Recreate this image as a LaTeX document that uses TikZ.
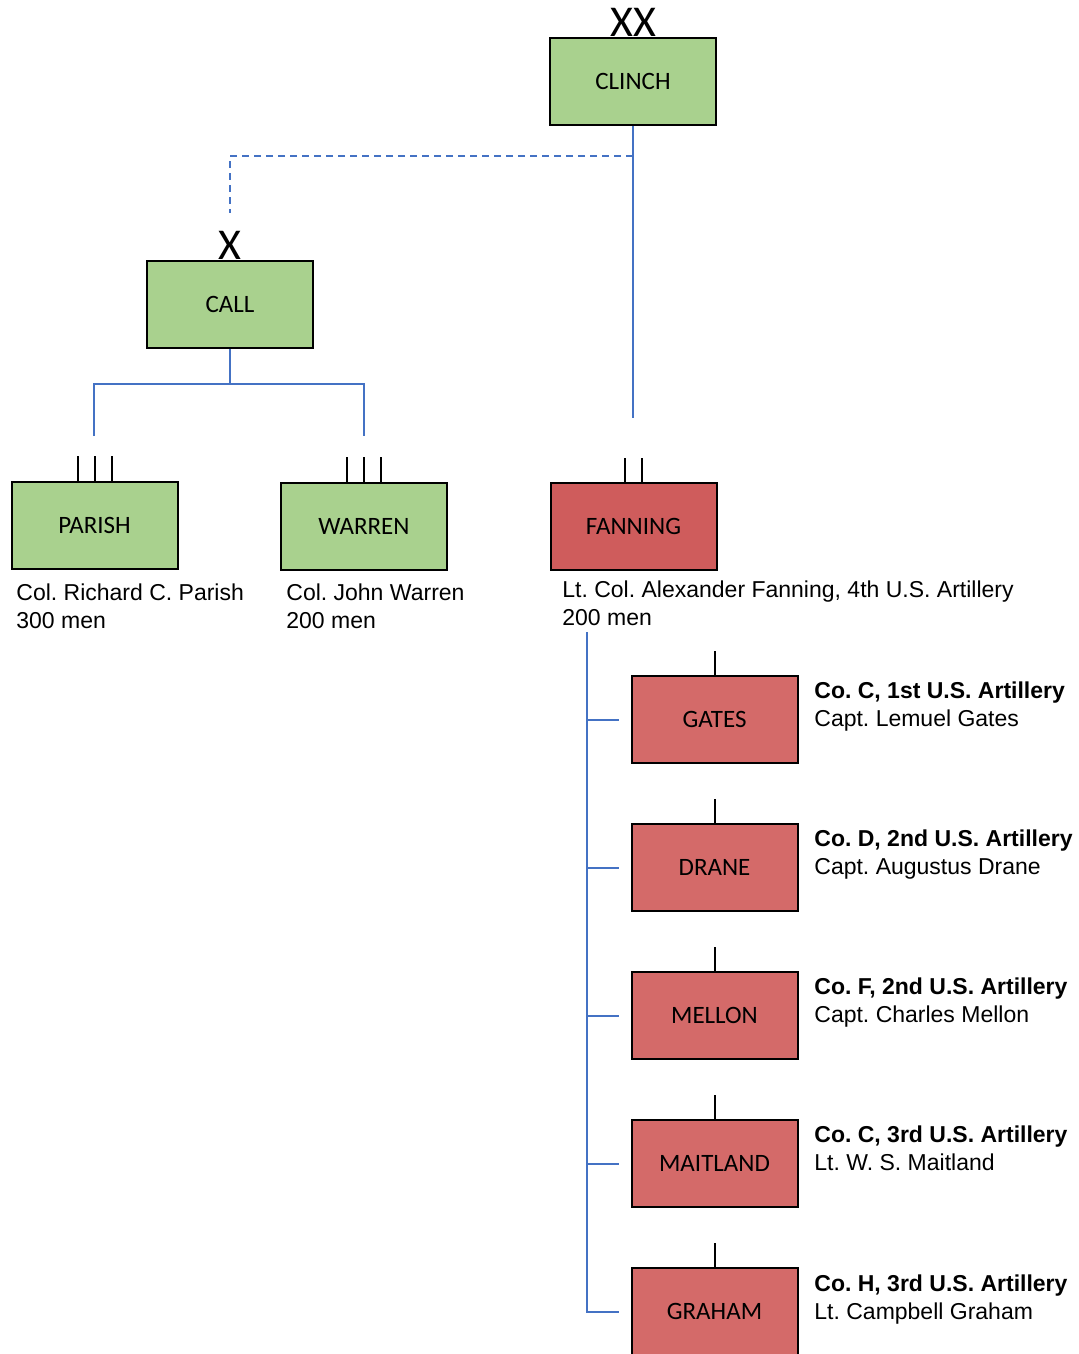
\documentclass[tikz,border=0pt]{standalone}
\usepackage{fontspec}
\setmainfont{Liberation Sans}
\newfontfamily\boxfont{Carlito}
\usetikzlibrary{positioning,calc}
\definecolor{unitgreen}{HTML}{A9D18E}
\definecolor{hqred}{HTML}{CF5C5C}
\definecolor{coyred}{HTML}{D46A69}
\definecolor{linkblue}{HTML}{4472C4}
\tikzset{%
  unit/.style    = { fill = #1, draw = black, line width = 1pt, inner sep = 0pt,
                     minimum width = 83pt, minimum height = 43.5pt,
                     font = \boxfont\fontsize{12.5}{15}\selectfont },
  echelon/.style = { inner sep = 0pt, font = \boxfont\fontsize{22}{22}\selectfont },
  tick/.style    = { draw = black, line width = 1pt },
  link/.style    = { draw = linkblue, line width = 1pt },
  info/.style    = { inner sep = 0pt, align = left, anchor = base west,
                     font = \fontsize{11.5}{14}\selectfont }
}
\frenchspacing

\begin{document}
\begin{tikzpicture}[x=0.5pt,y=-0.5pt]
  \useasboundingbox (0,0) rectangle (1078,1354);
  % headquarters
  \node(clinch)[unit=unitgreen] at (633,81.5) {CLINCH};
  \node(xx)[echelon, above = 0pt of clinch] {XX};
  \node(call)[unit=unitgreen] at (230,304.5) {CALL};
  \node(x)[echelon, above = 0pt of call] {X};
  % regiments
  \node(parish)[unit=unitgreen] at (94.5,525.5) {PARISH};
  \node(warren)[unit=unitgreen] at (364,526) {WARREN};
  \node(fanning)[unit=hqred] at (633.5,526.5) {FANNING};
  \draw[tick] ([xshift=-8.5pt]parish.north) -- ++(0,-25);
  \draw[tick] (parish.north) -- ++(0,-25);
  \draw[tick] ([xshift=8.5pt]parish.north) -- ++(0,-25);
  \draw[tick] ([xshift=-8.5pt]warren.north) -- ++(0,-25);
  \draw[tick] (warren.north) -- ++(0,-25);
  \draw[tick] ([xshift=8.5pt]warren.north) -- ++(0,-25);
  \draw[tick] ([xshift=-4.25pt]fanning.north) -- ++(0,-24);
  \draw[tick] ([xshift=4pt]fanning.north) -- ++(0,-24);
  \node(parishtxt)[info] at (16,628) {Col. Richard C. Parish\\300 men};
  \node(warrentxt)[info] at (286,628) {Col. John Warren\\200 men};
  \node(fanningtxt)[info] at (562,625) {Lt. Col. Alexander Fanning, 4th U.S. Artillery\\200 men};
  % companies
  \node(gates)[unit=coyred] at (714.5,719.5) {GATES};
  \node(drane)[unit=coyred, below = 29.5pt of gates] {DRANE};
  \node(mellon)[unit=coyred, below = 29.5pt of drane] {MELLON};
  \node(maitland)[unit=coyred, below = 29.5pt of mellon] {MAITLAND};
  \node(graham)[unit=coyred, below = 29.5pt of maitland] {GRAHAM};
  \draw[tick] (gates.north) -- ++(0,-24);
  \draw[tick] (drane.north) -- ++(0,-24);
  \draw[tick] (mellon.north) -- ++(0,-24);
  \draw[tick] (maitland.north) -- ++(0,-24);
  \draw[tick] (graham.north) -- ++(0,-24);
  \node(gatestxt)[info] at (814,726) {\textbf{Co. C, 1st U.S. Artillery}\\Capt. Lemuel Gates};
  \node(dranetxt)[info] at (814,874) {\textbf{Co. D, 2nd U.S. Artillery}\\Capt. Augustus Drane};
  \node(mellontxt)[info] at (814,1022) {\textbf{Co. F, 2nd U.S. Artillery}\\Capt. Charles Mellon};
  \node(maitlandtxt)[info] at (814,1170) {\textbf{Co. C, 3rd U.S. Artillery}\\Lt. W. S. Maitland};
  \node(grahamtxt)[info] at (814,1319) {\textbf{Co. H, 3rd U.S. Artillery}\\Lt. Campbell Graham};
  % connectors
  \coordinate(split) at (633,156);
  \coordinate(callin) at (230,213);
  \coordinate(fanningin) at (633,418);
  \coordinate(bar) at (230,384);
  \coordinate(parishin) at (94,436);
  \coordinate(warrenin) at (364,436);
  \coordinate(trunk) at (587,632);
  \draw[link] (clinch) -- (fanningin);
  \draw[link, dash pattern = on 3.5pt off 2.5pt] (split) -| (callin);
  \draw[link] (call) -- (bar);
  \draw[link] (parishin) |- (bar) -| (warrenin);
  \draw[link] (trunk) |- ([xshift=-6pt]graham.west);
  \draw[link] (trunk |- gates.west) -- ([xshift=-6pt]gates.west);
  \draw[link] (trunk |- drane.west) -- ([xshift=-6pt]drane.west);
  \draw[link] (trunk |- mellon.west) -- ([xshift=-6pt]mellon.west);
  \draw[link] (trunk |- maitland.west) -- ([xshift=-6pt]maitland.west);
\end{tikzpicture}
\end{document}
